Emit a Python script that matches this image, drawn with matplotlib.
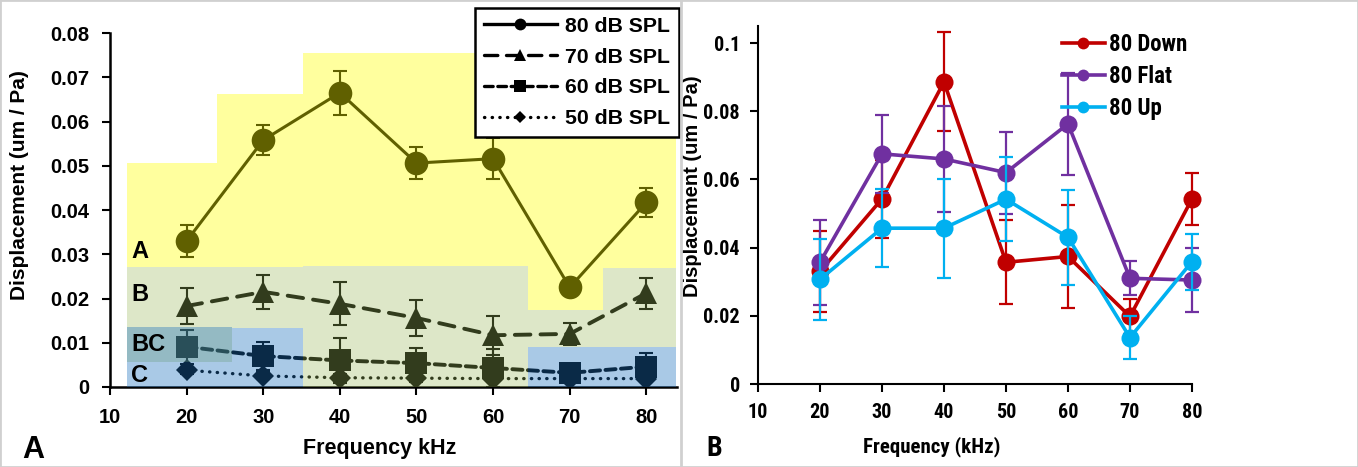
import numpy as np
import matplotlib
matplotlib.use("Agg")
from matplotlib import pyplot as plt
from matplotlib import font_manager
from matplotlib.patches import Rectangle
from matplotlib.lines import Line2D

# ----------- data -----------
freq = [20, 30, 40, 50, 60, 70, 80]

# panel A: displacement per sound level
db80 = [0.0330, 0.0558, 0.0665, 0.0506, 0.0516, 0.0225, 0.0417]
db80_err = [0.0037, 0.0034, 0.0050, 0.0037, 0.0046, 0.0012, 0.0032]
db70 = [0.0183, 0.0215, 0.0188, 0.0156, 0.0117, 0.0120, 0.0212]
db70_err = [0.0040, 0.0038, 0.0049, 0.0040, 0.0044, 0.0025, 0.0035]
db60 = [0.0091, 0.0070, 0.0060, 0.0054, 0.0043, 0.0032, 0.0046]
db60_err = [0.0038, 0.0032, 0.0050, 0.0035, 0.0042, 0.0010, 0.0030]
db50 = [0.0038, 0.0025, 0.0021, 0.0020, 0.0019, 0.0019, 0.0019]
db50_err = [0.0008, 0.0008, 0.0008, 0.0008, 0.0008, 0.0008, 0.0008]

# response zones (x0, x1, y0, y1)
zone_a = [(12.2, 24.0, 0.0271, 0.0506), (24.0, 35.2, 0.0271, 0.0662),
          (35.2, 64.5, 0.0274, 0.0755), (64.5, 74.4, 0.0174, 0.0755),
          (74.4, 83.9, 0.0269, 0.0755)]
zone_b = [(12.2, 25.9, 0.0057, 0.0271), (25.9, 35.2, 0.0133, 0.0271),
          (35.2, 64.5, 0.0, 0.0274), (64.5, 74.4, 0.0090, 0.0174),
          (74.4, 83.9, 0.0090, 0.0269)]
zone_c = [(12.2, 25.9, 0.0, 0.0135), (25.9, 35.2, 0.0, 0.0133),
          (64.5, 83.9, 0.0, 0.0090)]
zone_labels = ["A", "B", "BC", "C"]
zone_label_y = [0.0306, 0.0208, 0.0095, 0.0027]

# panel B: 80 dB with different spectra
down = [0.0330, 0.0543, 0.0886, 0.0357, 0.0374, 0.0198, 0.0543]
down_err = [0.0120, 0.0115, 0.0145, 0.0123, 0.0150, 0.0050, 0.0076]
flat = [0.0357, 0.0675, 0.0660, 0.0620, 0.0763, 0.0310, 0.0305]
flat_err = [0.0125, 0.0115, 0.0155, 0.0120, 0.0150, 0.0050, 0.0093]
up = [0.0307, 0.0457, 0.0457, 0.0542, 0.0430, 0.0136, 0.0359]
up_err = [0.0118, 0.0115, 0.0145, 0.0123, 0.0140, 0.0064, 0.0082]

# -------- end of data -----

plt.rcParams["font.family"] = ["Liberation Sans", "DejaVu Sans"]
plt.rcParams["font.weight"] = "bold"
plt.rcParams["axes.labelweight"] = "bold"

# panel B was drawn in a narrow font - take whatever condensed face is around
fonts = font_manager.fontManager.ttflist
wanted = [("Liberation Sans Narrow", None), ("Arial Narrow", None),
          ("Liberation Sans", "condensed"), ("Roboto Condensed", None),
          ("Roboto", "condensed"), ("DejaVu Sans Condensed", None),
          ("DejaVu Sans", "condensed"), ("Open Sans Condensed", None),
          ("Open Sans", "condensed"), ("Liberation Sans", None)]
narrow_family, narrow_stretch = "Liberation Sans", "normal"
for fam, st in wanted:
    if any(f.name == fam and (st is None or f.stretch == st) for f in fonts):
        narrow_family, narrow_stretch = fam, st or "normal"
        break
nf = dict(family=[narrow_family, "DejaVu Sans"], stretch=narrow_stretch)

fig = plt.figure(figsize=(13.58, 4.67), dpi=100)

# ---------------- panel A ----------------
ax1 = fig.add_axes([110 / 1358, 1 - 387 / 467, 567 / 1358, 354 / 467])

styles = [
    (db80, db80_err, "-", "o", 17, 2.2, "80 dB SPL"),
    (db70, db70_err, (0, (4, 2.6)), "^", 16, 2.8, "70 dB SPL"),
    (db60, db60_err, (0, (2.6, 1.4)), "s", 16, 2.8, "60 dB SPL"),
    (db50, db50_err, (0, (0.1, 2.2)), "D", 11.5, 2.4, "50 dB SPL"),
]
handles = []
for vals, err, ls, mk, ms, lw, name in styles:
    ax1.errorbar(freq, vals, yerr=err, fmt="none", ecolor="black",
                 elinewidth=1.5, capsize=5, capthick=1.5, zorder=2)
    ax1.plot(freq, vals, color="black", linestyle=ls, linewidth=lw,
             marker=mk, markersize=ms, markeredgewidth=0,
             dash_capstyle="round", solid_capstyle="butt", zorder=3)
    handles.append(Line2D([], [], color="black", linestyle=ls, linewidth=2.4,
                          marker=mk, markersize=ms * 0.5, markeredgewidth=0,
                          dash_capstyle="round"))

# translucent zones on top of the data
for zones, col, alpha in [(zone_a, "#ffff00", 0.38),
                          (zone_b, "#99b75a", 0.333),
                          (zone_c, "#1b70bd", 0.376)]:
    for x0, x1, y0, y1 in zones:
        ax1.add_patch(Rectangle((x0, y0), x1 - x0, y1 - y0, facecolor=col,
                                edgecolor="none", alpha=alpha, zorder=5))

for lab, yy in zip(zone_labels, zone_label_y):
    ax1.text(12.8, yy, lab, fontsize=17, fontweight="bold", va="center",
             ha="left", zorder=6)

ax1.set_xlim(10, 84)
ax1.set_ylim(0, 0.08)
ax1.set_xticks(range(10, 90, 10))
ax1.set_yticks(np.arange(0, 0.081, 0.01))
ax1.yaxis.set_major_formatter(plt.FuncFormatter(lambda v, p: f"{v:g}"))
ax1.spines[["top", "right"]].set_visible(False)
ax1.spines[["left", "bottom"]].set_linewidth(1.8)
ax1.tick_params(labelsize=14.5, length=6, width=1.5)
ax1.tick_params(axis="y", pad=9)
ax1.tick_params(axis="x", pad=9)
ax1.set_xlabel("Frequency kHz", fontsize=15.5)
ax1.set_ylabel("Displacement (um / Pa)", fontsize=15)
ax1.xaxis.set_label_coords(0.475, -0.145)
ax1.yaxis.set_label_coords(-0.143, 0.57)

leg = ax1.legend(handles, [s[-1] for s in styles], loc="upper right",
                 bbox_to_anchor=(679 / 1358, 1 - 8 / 467),
                 bbox_transform=fig.transFigure, borderaxespad=0,
                 fontsize=15.3, handlelength=3.4, handletextpad=0.4,
                 labelspacing=0.55, fancybox=False, framealpha=1,
                 edgecolor="black", borderpad=0.42)
leg.get_frame().set_linewidth(1.8)
leg.set_zorder(10)

fig.text(22 / 1358, 1 - 450 / 467, "A", fontsize=22, fontweight="bold",
         va="center", ha="left")

# ---------------- panel B ----------------
ax2 = fig.add_axes([758 / 1358, 1 - 384 / 467, 434 / 1358, 358 / 467])

series = [(down, down_err, "#c00000", "80 Down"),
          (flat, flat_err, "#7030a0", "80 Flat"),
          (up, up_err, "#00b0f0", "80 Up")]
for i, (vals, err, col, name) in enumerate(series):
    ax2.errorbar(freq, vals, yerr=err, fmt="none", ecolor=col,
                 elinewidth=1.6, capsize=5, capthick=1.6, zorder=2 + 2 * i,
                 clip_on=False)
    ax2.plot(freq, vals, color=col, linewidth=2.6, marker="o", markersize=13,
             markeredgewidth=0, label=name, zorder=3 + 2 * i, clip_on=False)

ax2.set_xlim(10, 80)
ax2.set_ylim(0, 0.105)
ax2.set_xticks(range(10, 90, 10))
ax2.set_yticks(np.arange(0, 0.101, 0.02))
ax2.yaxis.set_major_formatter(plt.FuncFormatter(lambda v, p: f"{v:g}"))
ax2.spines[["top", "right"]].set_visible(False)
ax2.spines[["left", "bottom"]].set_linewidth(1.5)
ax2.tick_params(length=6, width=1.5)
ax2.tick_params(axis="y", pad=7)
ax2.tick_params(axis="x", pad=8)
for t in ax2.get_xticklabels() + ax2.get_yticklabels():
    t.set_family(nf["family"])
    t.set_stretch(nf["stretch"])
    t.set_fontsize(14.5)
ax2.set_xlabel("Frequency (kHz)", fontsize=15, **nf)
ax2.set_ylabel("Displacement (um / Pa)", fontsize=14.5)
ax2.xaxis.set_label_coords(0.40, -0.145)
ax2.yaxis.set_label_coords(-0.13, 0.553)

leg2 = ax2.legend(loc="upper right", bbox_to_anchor=(1196 / 1358, 1 - 24 / 467),
                  bbox_transform=fig.transFigure, borderaxespad=0,
                  frameon=False, handlelength=1.9, handletextpad=0.15,
                  labelspacing=0.38,
                  prop=font_manager.FontProperties(size=16.5, weight="bold",
                                                   **nf))
for h in leg2.legend_handles:
    h.set_markersize(8.5)

fig.text(706 / 1358, 1 - 448 / 467, "B", fontsize=20, fontweight="bold",
         va="center", ha="left", **nf)

# panel separator and outer border
fig.add_artist(Line2D([681 / 1358, 681 / 1358], [0, 1], color="#d0d0d0",
                      linewidth=2, transform=fig.transFigure))
fig.add_artist(Rectangle((0, 0), 1, 1, fill=False, edgecolor="#d0d0d0",
                         linewidth=2, transform=fig.transFigure))

fig.savefig("out.png", dpi=100)
